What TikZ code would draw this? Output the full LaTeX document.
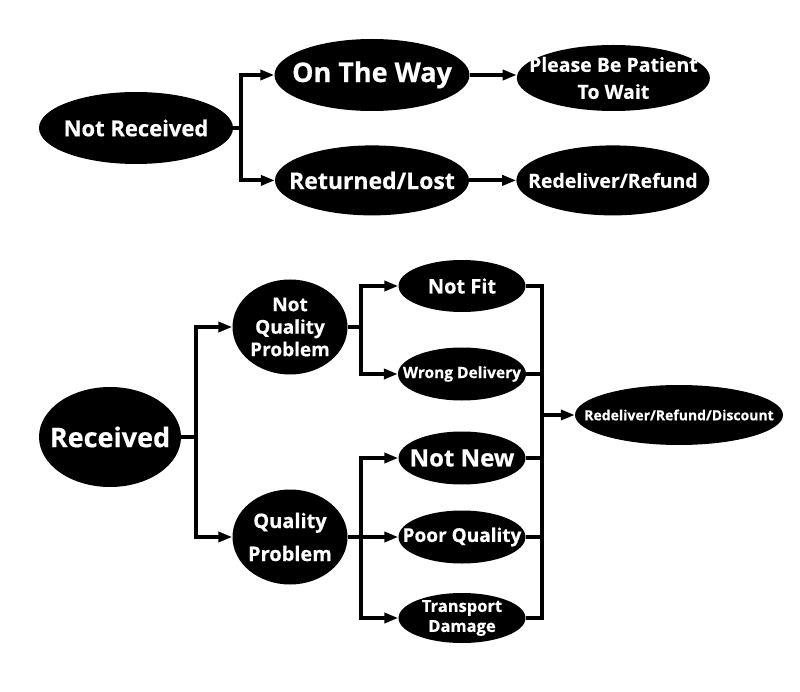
\documentclass[tikz,border=0pt]{standalone}
\usepackage{fontspec}
\setmainfont{Open Sans}[BoldFeatures={FakeBold=0.5}]
\usetikzlibrary{arrows.meta, positioning, shapes.geometric}

\begin{document}
\begin{tikzpicture}[x=1pt, y=-1pt,
		oval/.style={ellipse, draw=none, fill=black, text=white, inner sep=-30pt, align=center},
		link/.style={line width=4pt},
		arrow/.style={link, -{Triangle[length=14pt, width=10pt]}}]
	\useasboundingbox (0,0) rectangle (800,692);

	% Nodes: not received
	\node[oval, minimum width=194pt, minimum height=72pt, font=\bfseries\fontsize{22}{26}\selectfont] (notrec) at (136,128) {Not Received};
	\node[oval, minimum width=195pt, minimum height=72pt, font=\bfseries\fontsize{27}{32}\selectfont] (way) at (372,75) {On The Way};
	\node[oval, minimum width=194pt, minimum height=70pt, font=\bfseries\fontsize{23}{28}\selectfont, below=34pt of way] (lost) {Returned/Lost};
	\node[oval, minimum width=193pt, minimum height=66pt, font=\bfseries\fontsize{19.5}{27}\selectfont, right=47pt of way, yshift=-3pt] (patient) {Please Be Patient\\To Wait};
	\node[oval, minimum width=193pt, minimum height=70pt, font=\bfseries\fontsize{19.5}{24}\selectfont, right=47pt of lost] (refund) {Redeliver/Refund};

	% Nodes: received
	\node[oval, minimum width=142pt, minimum height=100pt, font=\bfseries\fontsize{27}{33}\selectfont] (rec) at (110,437) {Received};
	\node[oval, minimum width=115pt, minimum height=95pt, font=\bfseries\fontsize{19}{22.5}\selectfont] (nqp) at (290,327) {Not\\Quality\\Problem};
	\node[oval, minimum width=115pt, minimum height=95pt, font=\bfseries\fontsize{20}{33}\selectfont] (qp) at (290,537) {Quality\\Problem};
	\node[oval, minimum width=127pt, minimum height=52pt, font=\bfseries\fontsize{20}{24}\selectfont] (notfit) at (462,286) {Not Fit};
	\node[oval, minimum width=128pt, minimum height=53pt, font=\bfseries\fontsize{15.5}{19}\selectfont] (wrong) at (462,374) {Wrong Delivery};
	\node[oval, minimum width=127pt, minimum height=53pt, font=\bfseries\fontsize{24}{28}\selectfont] (notnew) at (462,458) {Not New};
	\node[oval, minimum width=127pt, minimum height=53pt, font=\bfseries\fontsize{19}{23}\selectfont] (poor) at (462,537) {Poor Quality};
	\node[oval, minimum width=127pt, minimum height=50pt, font=\bfseries\fontsize{16.5}{20}\selectfont] (transport) at (462,618) {Transport\\Damage};
	\node[oval, minimum width=208pt, minimum height=60pt, font=\bfseries\fontsize{14}{17}\selectfont] (final) at (679,415) {Redeliver/Refund/Discount};

	% Forks
	\coordinate (forkA) at (241,128);
	\draw[arrow] (notrec.east) -- (forkA) |- (way.west);
	\draw[arrow] (forkA) |- (lost.west);
	\draw[arrow] (way) -- (way -| patient.west);
	\draw[arrow] (lost) -- (refund);

	\coordinate (forkB) at (196,437);
	\draw[arrow] (rec.east) -- (forkB) |- (nqp.west);
	\draw[arrow] (forkB) |- (qp.west);

	\coordinate (forkC) at (361,327);
	\draw[arrow] (nqp.east) -- (forkC) |- (notfit.west);
	\draw[arrow] (forkC) |- (wrong.west);

	\coordinate (forkD) at (361,537);
	\draw[arrow] (qp.east) -- (forkD) |- (notnew.west);
	\draw[arrow] (forkD) -- (poor.west);
	\draw[arrow] (forkD) |- (transport.west);

	% Merge
	\coordinate (join) at (542,415);
	\foreach \n in {notfit, wrong, notnew, poor, transport}
		\draw[link] (\n.east) -| (join);
	\draw[arrow] (join) -- (final);
\end{tikzpicture}
\end{document}
